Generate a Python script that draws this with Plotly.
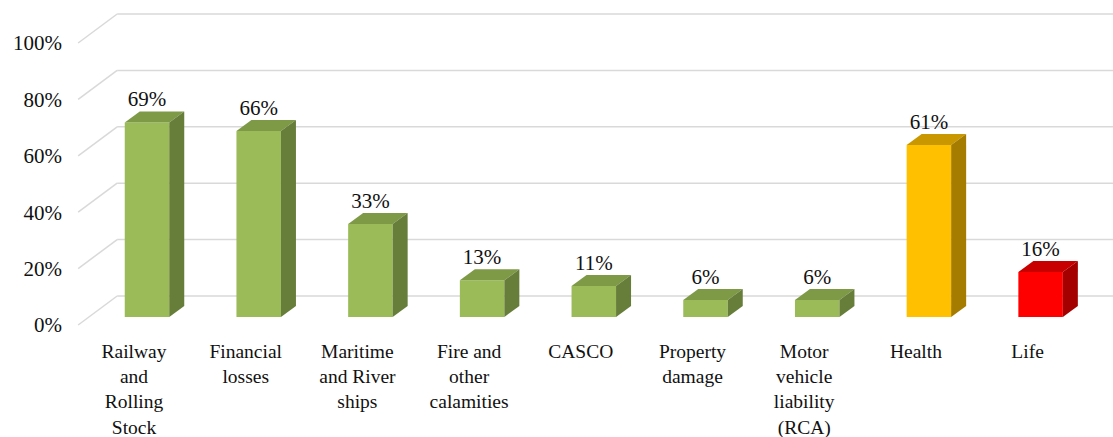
import plotly.graph_objects as go

categories = ["Railway<br>and<br>Rolling<br>Stock", "Financial<br>losses", "Maritime<br>and River<br>ships",
              "Fire and<br>other<br>calamities", "CASCO", "Property<br>damage", "Motor<br>vehicle<br>liability<br>(RCA)",
              "Health", "Life"]
values = [69, 66, 33, 13, 11, 6, 6, 61, 16]
value_labels = ["69%", "66%", "33%", "13%", "11%", "6%", "6%", "61%", "16%"]
y_ticks = [0, 20, 40, 60, 80, 100]
y_tick_labels = ["0%", "20%", "40%", "60%", "80%", "100%"]

green = ("#9BBB59", "#7E9A47", "#677D3A")
gold = ("#FFC000", "#C99800", "#A67C00")
red = ("#FF0000", "#C80000", "#A40000")
bar_colors = [green] * 7 + [gold, red]

# pixel geometry of the figure
W, H = 1113, 437
ML, MR, MT, MB = 70, 0, 5, 105
PX_PER_CAT = 111.7      # category spacing
X0_PX = 134             # pixel of first category label (front plane)
PX_PER_PCT = 2.82       # pixels per percentage point
Y0_PX = 325             # pixel of 0% on front plane

xr = [(ML - X0_PX) / PX_PER_CAT, (W - MR - X0_PX) / PX_PER_CAT]
yr = [(Y0_PX - (H - MB)) / PX_PER_PCT, (Y0_PX - MT) / PX_PER_PCT]

# depth of the whole chart (wall) and of bars, in data units
WALL_DX, WALL_DY = 39 / PX_PER_CAT, 29 / PX_PER_PCT
BAR_OFF_X, BAR_OFF_Y = 13 / PX_PER_CAT, 8 / PX_PER_PCT
BAR_DX, BAR_DY = 15 / PX_PER_CAT, 11 / PX_PER_PCT
BAR_W = 44.5 / PX_PER_CAT

fig = go.Figure()

shapes = []
for v in y_ticks:
    x_left = -0.5
    shapes.append(dict(type="line", xref="x", yref="y", layer="below",
                       x0=x_left, y0=v, x1=x_left + WALL_DX, y1=v + WALL_DY,
                       line=dict(color="#D9D9D9", width=1.5)))
    shapes.append(dict(type="line", xref="x", yref="y", layer="below",
                       x0=x_left + WALL_DX, y0=v + WALL_DY, x1=xr[1] + 1, y1=v + WALL_DY,
                       line=dict(color="#D9D9D9", width=1.5)))

xs = [i + BAR_OFF_X for i in range(len(values))]

fig.add_trace(go.Bar(x=xs, y=values, base=[BAR_OFF_Y] * len(values), width=BAR_W,
                     marker=dict(color=[c[0] for c in bar_colors], line=dict(width=0)),
                     hoverinfo="skip", showlegend=False))

for xc, v, cols in zip(xs, values, bar_colors):
    l, r = xc - BAR_W / 2, xc + BAR_W / 2
    b, t = BAR_OFF_Y, BAR_OFF_Y + v
    fig.add_trace(go.Scatter(x=[l, r, r + BAR_DX, l + BAR_DX, l],
                             y=[t, t, t + BAR_DY, t + BAR_DY, t],
                             fill="toself", fillcolor=cols[1], mode="lines",
                             line=dict(width=0, color=cols[1]), hoverinfo="skip", showlegend=False))
    fig.add_trace(go.Scatter(x=[r, r + BAR_DX, r + BAR_DX, r, r],
                             y=[b, b + BAR_DY, t + BAR_DY, t, b],
                             fill="toself", fillcolor=cols[2], mode="lines",
                             line=dict(width=0, color=cols[2]), hoverinfo="skip", showlegend=False))

fig.add_trace(go.Scatter(x=xs, y=[v + BAR_OFF_Y + BAR_DY for v in values], text=value_labels,
                         mode="text", textposition="top center",
                         textfont=dict(family="Liberation Serif", size=21, color="#111111"),
                         hoverinfo="skip", showlegend=False))

fig.update_layout(
    width=W, height=H,
    margin=dict(l=ML, r=MR, t=MT, b=MB, autoexpand=False),
    paper_bgcolor="white", plot_bgcolor="white",
    shapes=shapes,
    font=dict(family="Liberation Serif", size=19.5, color="#111111"),
    xaxis=dict(range=xr, tickmode="array", tickvals=list(range(len(categories))), ticktext=categories,
               showgrid=False, zeroline=False, showline=False, ticks="", ticklabelstandoff=5,
               tickfont=dict(size=19.5), automargin=False),
    yaxis=dict(range=yr, tickmode="array", tickvals=y_ticks, ticktext=y_tick_labels,
               showgrid=False, zeroline=False, showline=False, ticks="", ticklabelstandoff=7,
               tickfont=dict(size=21), automargin=False),
)

fig.write_html("out.html")
